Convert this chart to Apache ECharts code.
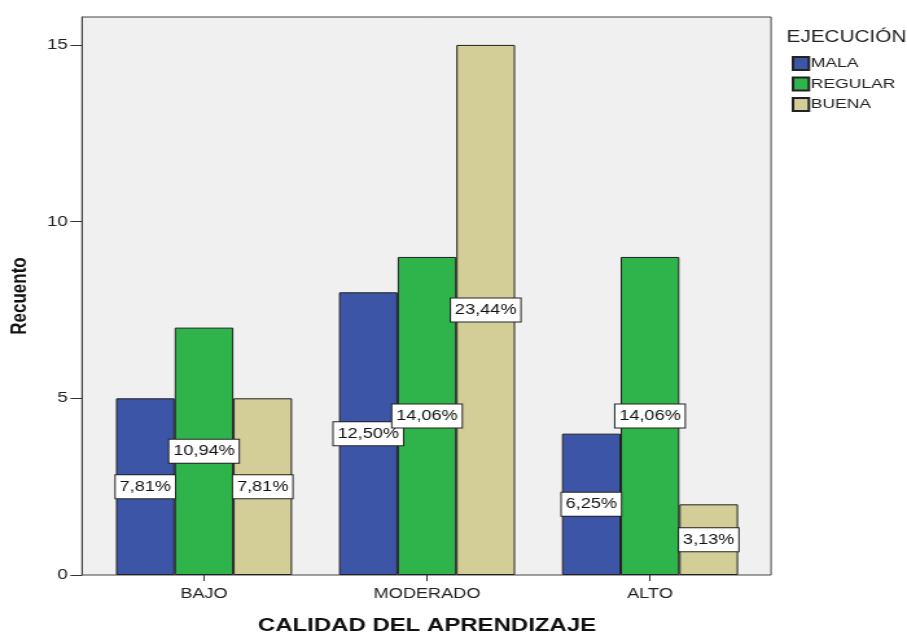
<!DOCTYPE html>
<html>
<head>
<meta charset="utf-8">
<script src="https://cdn.jsdelivr.net/npm/echarts@6/dist/echarts.min.js"></script>
<style>
  html, body { margin: 0; padding: 0; background: #ffffff; overflow: hidden; }
  #wrap { width: 907px; height: 634px; overflow: hidden; }
  /* the chart is laid out at 700px and widened to fill the 907px frame */
  #chart { width: 700px; height: 634px; transform: scaleX(1.29571); transform-origin: 0 0; }
</style>
</head>
<body>
<div id="wrap"><div id="chart"></div></div>
<script>
// Categories and counts per execution level
const categories = ['BAJO', 'MODERADO', 'ALTO'];
const mala = [5, 8, 4];
const regular = [7, 9, 9];
const buena = [5, 15, 2];
const yTicks = [0, 5, 10, 15];
const total = 64;

const seriesDefs = [
  { name: 'MALA', data: mala, color: '#3D55A6' },
  { name: 'REGULAR', data: regular, color: '#2EB44B' },
  { name: 'BUENA', data: buena, color: '#D3CE98' }
];

const font = 'Liberation Sans, Arial, sans-serif';
const yMax = 15.79;

function pct(v) {
  return (v / total * 100).toFixed(2).replace('.', ',') + '%';
}

const chart = echarts.init(document.getElementById('chart'), null, { renderer: 'canvas' });

chart.setOption({
  animation: false,
  backgroundColor: '#ffffff',
  title: {
    text: 'EJECUCIÓN',
    left: 602,
    top: 25,
    textStyle: { fontFamily: font, fontSize: 16, fontWeight: 'normal', color: '#222' }
  },
  legend: {
    orient: 'vertical',
    left: 611,
    top: 56,
    padding: 0,
    itemWidth: 12.3,
    itemHeight: 13,
    itemGap: 5.5,
    icon: 'rect',
    textStyle: { fontFamily: font, fontSize: 13.5, color: '#222', padding: [0, 0, 0, -3.5] },
    data: seriesDefs.map(s => s.name)
  },
  grid: [
    {
      left: 63.3, top: 17, width: 531.8, height: 558,
      outerBoundsMode: 'none',
      show: true, backgroundColor: '#F0F0F0', borderColor: '#444', borderWidth: 1
    },
    {
      left: 71.4, top: 17, width: 516.3, height: 558,
      outerBoundsMode: 'none'
    }
  ],
  xAxis: [
    { type: 'value', gridIndex: 0, min: 0, max: 1, show: false },
    {
      type: 'category', gridIndex: 1, data: categories,
      name: 'CALIDAD DEL APRENDIZAJE',
      nameLocation: 'middle',
      nameGap: 41,
      nameTextStyle: { fontFamily: font, fontSize: 18.5, fontWeight: 'bold', color: '#111' },
      axisLine: { show: false },
      axisTick: { show: true, alignWithLabel: true, length: 6, lineStyle: { color: '#333' } },
      axisLabel: { fontFamily: font, fontSize: 14, color: '#222', margin: 12 }
    }
  ],
  yAxis: [
    {
      type: 'value', gridIndex: 0, min: 0, max: yMax,
      name: 'Recuento',
      nameLocation: 'middle',
      nameGap: 39,
      nameRotate: 90,
      nameTextStyle: { fontFamily: font, fontSize: 17, fontWeight: 'bold', color: '#111' },
      axisLine: { show: true, lineStyle: { color: '#444' } },
      axisTick: { show: true, length: 9, customValues: yTicks, lineStyle: { color: '#333' } },
      axisLabel: { fontFamily: font, fontSize: 14.5, color: '#222', margin: 11, customValues: yTicks },
      splitLine: { show: false }
    },
    { type: 'value', gridIndex: 1, min: 0, max: yMax, show: false }
  ],
  series: seriesDefs.map(s => ({
    name: s.name,
    type: 'bar',
    xAxisIndex: 1,
    yAxisIndex: 1,
    data: s.data,
    barWidth: 45.3,
    barGap: '0%',
    itemStyle: { color: s.color, borderColor: '#222', borderWidth: 1 },
    label: {
      show: true,
      position: 'inside',
      formatter: p => pct(p.value),
      fontFamily: font,
      fontSize: 14,
      color: '#111',
      backgroundColor: '#ffffff',
      borderColor: '#222',
      borderWidth: 1,
      padding: [4, 3, 3, 3],
      lineHeight: 16
    }
  }))
});
</script>
</body>
</html>
